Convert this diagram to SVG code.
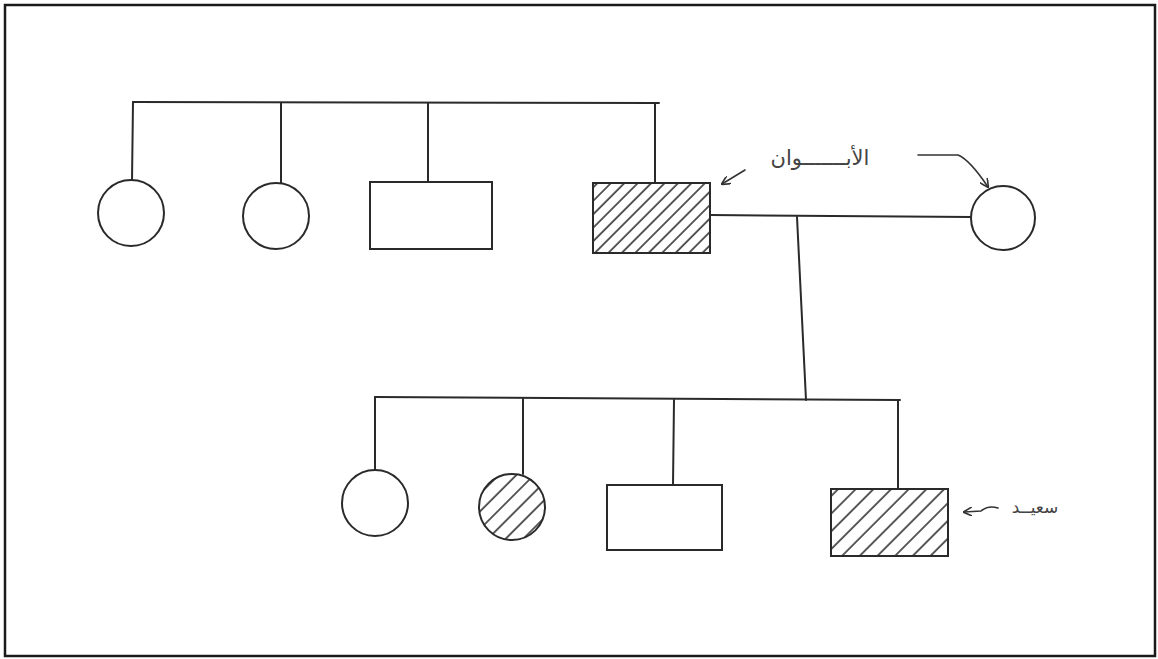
<svg xmlns="http://www.w3.org/2000/svg" width="1158" height="659" viewBox="0 0 1158 659">
<style>
.ln{fill:none;stroke:#2a2a2a;stroke-width:2;stroke-linecap:round;stroke-linejoin:round}
.nd{fill:#fff;stroke:#2a2a2a;stroke-width:2}
.hd{fill:url(#hatchA);stroke:#2a2a2a;stroke-width:2}
.hs{fill:url(#hatchB);stroke:#2a2a2a;stroke-width:2}
.lbl{font-family:"DejaVu Sans","Noto Sans",sans-serif;fill:#444}
.ar{fill:none;stroke:#333;stroke-width:1.6;stroke-linecap:round}
</style>
<defs>
<pattern id="hatchA" patternUnits="userSpaceOnUse" width="9.5" height="9.5" patternTransform="rotate(45)">
<rect width="9.5" height="9.5" fill="#fff"/>
<line x1="1" y1="0" x2="1" y2="9.5" stroke="#333" stroke-width="1.6"/>
</pattern>
<pattern id="hatchB" patternUnits="userSpaceOnUse" width="12.5" height="12.5" patternTransform="rotate(45)">
<rect width="12.5" height="12.5" fill="#fff"/>
<line x1="1" y1="0" x2="1" y2="12.5" stroke="#333" stroke-width="1.6"/>
</pattern>
<marker id="ah" viewBox="0 0 10 10" refX="9" refY="5" markerWidth="9" markerHeight="9" orient="auto" markerUnits="userSpaceOnUse">
<path d="M0,0 L10,5 L0,10" fill="none" stroke="#333" stroke-width="1.8"/>
</marker>
</defs>
<rect x="0" y="0" width="1158" height="659" fill="#fff"/>
<rect x="5" y="5" width="1150" height="651" fill="none" stroke="#1a1a1a" stroke-width="2.5"/>

<g id="connectors">
<path class="ln" d="M133,102 L659,103"/>
<path class="ln" d="M133,102 L132,181"/>
<path class="ln" d="M281,103 L281,183"/>
<path class="ln" d="M428,103 L428,182"/>
<path class="ln" d="M655,103 L655,183"/>
<path class="ln" d="M710,215 L972,217"/>
<path class="ln" d="M797,217 L806,400"/>
<path class="ln" d="M375,397 L900,400"/>
<path class="ln" d="M375,397 L375,470"/>
<path class="ln" d="M523,399 L523,474"/>
<path class="ln" d="M674,400 L673,485"/>
<path class="ln" d="M898,401 L898,489"/>
</g>

<g id="n1"><circle class="nd" cx="131" cy="213" r="33"/></g>
<g id="n2"><circle class="nd" cx="276" cy="216" r="33"/></g>
<g id="n3"><rect class="nd" x="370" y="182" width="122" height="67"/></g>
<g id="n4"><rect class="hd" x="593" y="183" width="117" height="70"/></g>
<g id="n5"><circle class="nd" cx="1003" cy="218" r="32"/></g>
<g id="c1"><circle class="nd" cx="375" cy="503" r="33"/></g>
<g id="c2"><circle class="hs" cx="512" cy="507" r="33"/></g>
<g id="c3"><rect class="nd" x="607" y="485" width="115" height="65"/></g>
<g id="c4"><rect class="hs" x="831" y="489" width="117" height="67"/></g>

<g id="label-parents">
<text class="lbl" x="820" y="165" font-size="21" text-anchor="middle" direction="rtl">الأبـــــــوان</text>
<path class="ar" d="M745,170 L722,184" marker-end="url(#ah)"/>
<path class="ar" d="M918,155 L958,155 Q970,160 988,187" marker-end="url(#ah)"/>
</g>
<g id="label-said">
<text class="lbl" x="1035" y="513" font-size="17" text-anchor="middle" direction="rtl">سعيــد</text>
<path class="ar" d="M998,508 Q988,505 981,511 L964,512" marker-end="url(#ah)"/>
</g>
</svg>
